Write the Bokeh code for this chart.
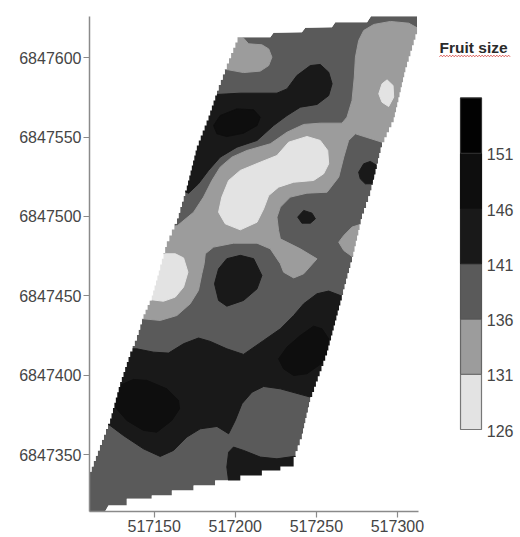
from bokeh.plotting import figure
from bokeh.models import Range1d, FixedTicker, LinearAxis, PrintfTickFormatter
from bokeh.core.properties import value
from bokeh.embed import file_html
from bokeh.resources import INLINE

X0 = 517000
Y0 = 6847000
X_TICKS = [517150, 517200, 517250, 517300]
Y_TICKS = [6847350, 6847400, 6847450, 6847500, 6847550, 6847600]

# class colours
C126, C131, C136, C141, C146, C151 = "#e3e3e3", "#9c9c9c", "#5a5a5a", "#191919", "#0e0e0e", "#020202"
LEGEND_EDGES = [126, 131, 136, 141, 146, 151, 156]
LEGEND_COLORS = [C126, C131, C136, C141, C146, C151]
LEGEND_LABELS = [126, 131, 136, 141, 146, 151]
TITLE = "Fruit size"

# field outline (offsets from X0, Y0)
TOP_X = [202.7, 221.6, 223.6, 241.1, 243.2, 259.6, 261.7, 281.3, 283.7, 312.1, 312.1]
TOP_Y = [613.0, 613.0, 615.7, 616.1, 618.9, 619.3, 622.4, 622.4, 626.2, 626.2, 618.2]
RIGHT_X = [312.1, 304.9, 297.7, 290.5, 283.3, 278.2, 272.0, 264.8, 256.6, 246.3, 241.1, 236.0]
RIGHT_Y = [618.2, 594.1, 562.6, 546.8, 516.4, 501.7, 474.4, 447.1, 415.6, 386.2, 363.1, 348.4]
BOTTOM_X = [236.0, 236.0, 227.8, 227.8, 216.4, 216.4, 203.1, 203.1, 187.6, 187.6, 174.3, 174.3, 160.9, 160.9, 148.5, 148.5, 133.1, 133.1, 121.8, 119.7, 110.1]
BOTTOM_Y = [348.4, 342.5, 342.5, 340.0, 340.0, 336.8, 336.8, 333.7, 333.7, 330.5, 330.5, 327.4, 327.4, 324.2, 324.2, 322.1, 322.1, 317.9, 317.9, 314.1, 314.1]
LEFT_X = [110.1, 122.8, 129.0, 135.2, 139.3, 143.4, 148.5, 153.7, 157.8, 164.0, 170.1, 176.3, 183.5, 189.7, 194.8, 202.7]
LEFT_Y = [335.8, 369.4, 392.5, 411.4, 421.9, 435.5, 447.1, 466.0, 480.7, 495.4, 516.4, 541.6, 560.5, 579.4, 593.0, 613.0]

# contour classes
A_X = [200.0, 205.1, 208.2, 216.4, 220.6, 222.6, 220.6, 215.4, 205.1, 195.9, 191.8]
A_Y = [614.0, 612.4, 608.8, 608.2, 605.6, 600.4, 595.1, 591.6, 590.7, 592.4, 593.0]
B_X = [316.2, 312.1, 307.0, 295.7, 285.4, 279.2, 276.1, 274.1, 273.4, 272.0, 268.9, 265.8, 252.4, 242.2, 231.9, 221.6, 207.2, 197.9, 190.7, 185.6, 180.4, 174.3, 164.4, 159.9, 145.5, 139.3, 143.4, 153.7, 164.0, 172.2, 177.3, 179.4, 180.8, 181.5, 186.6, 199.0, 213.4, 221.6, 227.8, 229.8, 236.0, 242.2, 250.4, 240.1, 227.8, 226.7, 225.7, 227.8, 233.9, 244.2, 256.6, 263.8, 266.9, 269.9, 274.1, 290.5, 295.7]
B_Y = [618.2, 618.9, 621.8, 622.9, 621.0, 617.2, 610.9, 600.4, 587.8, 573.1, 562.6, 558.8, 558.8, 558.0, 553.1, 545.8, 541.6, 537.4, 531.1, 522.7, 512.2, 502.7, 494.3, 493.3, 457.6, 435.5, 435.5, 434.5, 437.6, 445.0, 453.4, 463.9, 470.2, 476.5, 480.7, 483.2, 483.2, 479.6, 470.2, 464.9, 461.3, 463.9, 473.3, 479.6, 485.9, 491.2, 499.6, 505.9, 512.2, 514.7, 515.3, 524.8, 537.4, 547.9, 552.1, 546.8, 545.8]
C_X = [281.3, 272.0, 266.9, 263.8, 266.9, 272.0, 279.2, 283.3]
C_Y = [496.4, 493.3, 488.0, 483.8, 478.6, 474.8, 478.6, 495.4]
D_X = [244.2, 252.4, 257.0, 257.6, 254.5, 248.3, 236.0, 226.7, 220.6, 217.5, 213.4, 203.1, 193.8, 189.7, 191.7, 195.9, 203.1, 215.4, 225.7, 232.9]
D_Y = [550.4, 547.9, 541.6, 533.2, 526.9, 522.7, 521.6, 518.5, 513.2, 504.8, 496.4, 491.6, 495.4, 502.7, 512.2, 522.7, 529.0, 534.2, 538.4, 546.8]
E_X = [293.6, 297.3, 297.7, 294.6, 290.5, 288.5, 290.5]
E_Y = [586.1, 582.5, 575.2, 569.3, 572.0, 577.3, 583.6]
F_X = [150.6, 156.8, 163.0, 168.1, 170.8, 168.1, 163.0, 155.7, 148.5, 145.5]
F_Y = [474.4, 476.5, 476.5, 473.9, 464.9, 455.5, 449.2, 446.6, 447.5, 447.1]
G_X = [185.6, 203.1, 225.7, 231.9, 238.0, 246.3, 252.4, 257.6, 259.7, 257.6, 250.4, 240.1, 231.9, 223.6, 213.4, 201.0, 190.7, 183.5, 177.3, 171.2, 167.1, 180.4]
G_Y = [576.7, 577.7, 577.7, 580.4, 588.8, 595.1, 595.8, 590.9, 583.6, 576.2, 570.6, 568.9, 563.6, 557.3, 547.9, 543.7, 537.4, 529.0, 520.6, 514.7, 516.4, 560.5]
H_X = [186.6, 190.7, 201.0, 211.3, 215.4, 213.4, 205.1, 194.8, 188.7]
H_Y = [557.3, 563.6, 567.8, 567.2, 562.6, 557.3, 552.5, 550.4, 552.1]
I_X = [276.1, 279.2, 283.3, 287.4, 286.4, 284.3, 280.2, 277.1]
I_Y = [527.9, 533.2, 534.7, 532.1, 526.9, 520.6, 520.6, 523.7]
J_X = [238.5, 242.2, 247.3, 249.4, 246.3, 241.1]
J_Y = [499.6, 503.8, 502.1, 498.5, 495.8, 495.8]
K_X = [189.7, 194.8, 203.1, 211.3, 216.4, 213.4, 205.1, 194.8, 189.7, 187.2]
K_Y = [467.0, 473.4, 475.5, 473.4, 462.8, 454.4, 447.1, 443.5, 447.1, 457.6]
L_X = [273.0, 264.8, 257.6, 250.4, 242.2, 236.0, 227.8, 217.5, 205.1, 194.8, 184.5, 177.3, 168.1, 158.8, 149.6, 139.3, 131.0, 116.6, 122.8, 131.0, 143.4, 153.7, 161.9, 170.1, 178.4, 188.7, 195.9, 200.0, 204.1, 210.3, 217.5, 227.8, 246.3, 252.4]
L_Y = [450.2, 450.2, 453.0, 451.3, 445.0, 437.6, 429.2, 421.9, 413.1, 416.6, 421.3, 423.4, 419.8, 413.9, 414.5, 416.6, 416.6, 371.5, 368.3, 362.0, 353.6, 348.8, 352.6, 361.0, 366.2, 367.7, 363.1, 371.5, 382.0, 389.3, 392.9, 391.4, 386.2, 388.3]
M_X = [122.8, 128.6, 137.2, 145.5, 157.8, 165.0, 165.6, 160.9, 151.6, 143.4, 133.1, 125.9]
M_Y = [382.0, 393.5, 397.3, 396.7, 391.4, 384.1, 378.8, 371.5, 364.1, 365.2, 371.5, 379.9]
N_X = [226.7, 231.9, 240.1, 248.3, 253.5, 257.6, 255.5, 251.4, 244.2, 236.0, 229.8]
N_Y = [410.3, 417.7, 425.0, 430.9, 429.2, 422.9, 409.3, 406.1, 400.9, 399.8, 404.0]
O_X = [195.9, 198.9, 205.1, 215.4, 225.7, 236.0, 238.0, 238.0, 227.8, 216.4, 203.1, 195.9, 194.8]
O_Y = [351.5, 354.7, 352.6, 348.4, 347.3, 348.8, 348.8, 340.0, 337.9, 334.7, 331.6, 333.3, 342.1]

REGIONS = [
    (B_X, B_Y, C131), (A_X, A_Y, C131), (C_X, C_Y, C131),
    (D_X, D_Y, C126), (E_X, E_Y, C126), (F_X, F_Y, C126),
    (G_X, G_Y, C141), (I_X, I_Y, C141), (J_X, J_Y, C141), (K_X, K_Y, C141),
    (L_X, L_Y, C141), (O_X, O_Y, C141),
    (H_X, H_Y, C146), (M_X, M_Y, C146), (N_X, N_Y, C146),
]


def stair(xs, ys, step=3.3):
    """Grid-cell outline along a slanted side of the field."""
    ox, oy = [], []
    for i in range(len(xs) - 1):
        n = max(1, round(abs(ys[i + 1] - ys[i]) / step))
        for k in range(n):
            ya = ys[i] + (ys[i + 1] - ys[i]) * k / n
            yb = ys[i] + (ys[i + 1] - ys[i]) * (k + 1) / n
            xa = xs[i] + (xs[i + 1] - xs[i]) * k / n
            xb = xs[i] + (xs[i + 1] - xs[i]) * (k + 1) / n
            ox += [xa, xa, xb]
            oy += [ya, yb, yb]
    return ox, oy


rx, ry = stair(RIGHT_X, RIGHT_Y)
lx, ly = stair(LEFT_X, LEFT_Y)
sil_x = [v + X0 for v in TOP_X + rx + BOTTOM_X + lx]
sil_y = [v + Y0 for v in TOP_Y + ry + BOTTOM_Y + ly]

TEXT = "#454545"
SPINE = "#8a8a8a"

p = figure(width=520, height=537, output_backend="svg", toolbar_location=None,
           x_range=Range1d(517110.1, 517375.9), y_range=Range1d(6847314.1, 6847636.1),
           min_border_left=89, min_border_right=0, min_border_top=0, min_border_bottom=26,
           x_axis_location=None, y_axis_location=None)
p.outline_line_color = None
p.xgrid.visible = False
p.ygrid.visible = False
p.background_fill_color = "white"

p.extra_y_ranges = {"legend": Range1d(118.58, 164.82)}
p.extra_x_ranges = {"legend_x": Range1d(-17.67, 2.857)}

p.patch(sil_x, sil_y, fill_color=C136, line_color=None)
for rxs, rys, col in REGIONS:
    p.patch([v + X0 for v in rxs], [v + Y0 for v in rys], fill_color=col, line_color=col, line_width=1)

outer_x = [X0 + 105, X0 + 320, X0 + 320, X0 + 105]
outer_y = [Y0 + 305, Y0 + 305, Y0 + 630, Y0 + 630]
p.multi_polygons(xs=[[[outer_x, sil_x]]], ys=[[[outer_y, sil_y]]], fill_color="white", line_color=None)

for ax, place, ticks, bounds in (
    (LinearAxis(), "below", X_TICKS, (517110.1, 517313.0)),
    (LinearAxis(), "left", Y_TICKS, (6847314.1, 6847626.0)),
):
    ax.ticker = FixedTicker(ticks=ticks)
    ax.formatter = PrintfTickFormatter(format="%d")
    ax.bounds = bounds
    ax.axis_line_color = SPINE
    ax.axis_line_width = 1.5
    ax.major_tick_line_color = SPINE
    ax.major_tick_line_width = 1.2
    ax.major_tick_in = 0
    ax.major_tick_out = 6
    ax.minor_tick_line_color = None
    ax.major_label_text_font = "Liberation Sans"
    ax.major_label_text_font_size = "16px"
    ax.major_label_text_color = TEXT
    ax.major_label_standoff = 2
    p.add_layout(ax, place)

# legend bar
p.quad(left=[0] * 6, right=[1] * 6, bottom=LEGEND_EDGES[:-1], top=LEGEND_EDGES[1:],
       fill_color=LEGEND_COLORS, line_color=["#777777", "#666666", "#555555", "#222222", "#111111", "#333333"],
       line_width=1.2, x_range_name="legend_x", y_range_name="legend")
p.text(x=[1.25] * 6, y=[v - 0.1 for v in LEGEND_LABELS], text=[str(v) for v in LEGEND_LABELS],
       text_font=value("Liberation Sans"), text_font_size="16px", text_color=TEXT,
       text_baseline="middle", text_align="left", x_range_name="legend_x", y_range_name="legend")
p.text(x=[-1.0], y=[160.6], text=[TITLE], text_font=value("Liberation Sans"), text_font_style="bold",
       text_font_size="15.5px", text_color="#2a2a2a", text_baseline="middle", text_align="left",
       x_range_name="legend_x", y_range_name="legend")
wave_x = [-1.0 + 0.07 * i for i in range(49)]
wave_y = [159.8 + (0.07 if i % 2 else -0.07) for i in range(49)]
p.line(wave_x, wave_y, line_color="#d9534f", line_width=1, x_range_name="legend_x", y_range_name="legend")

open("out.html", "w").write(file_html(p, INLINE))
